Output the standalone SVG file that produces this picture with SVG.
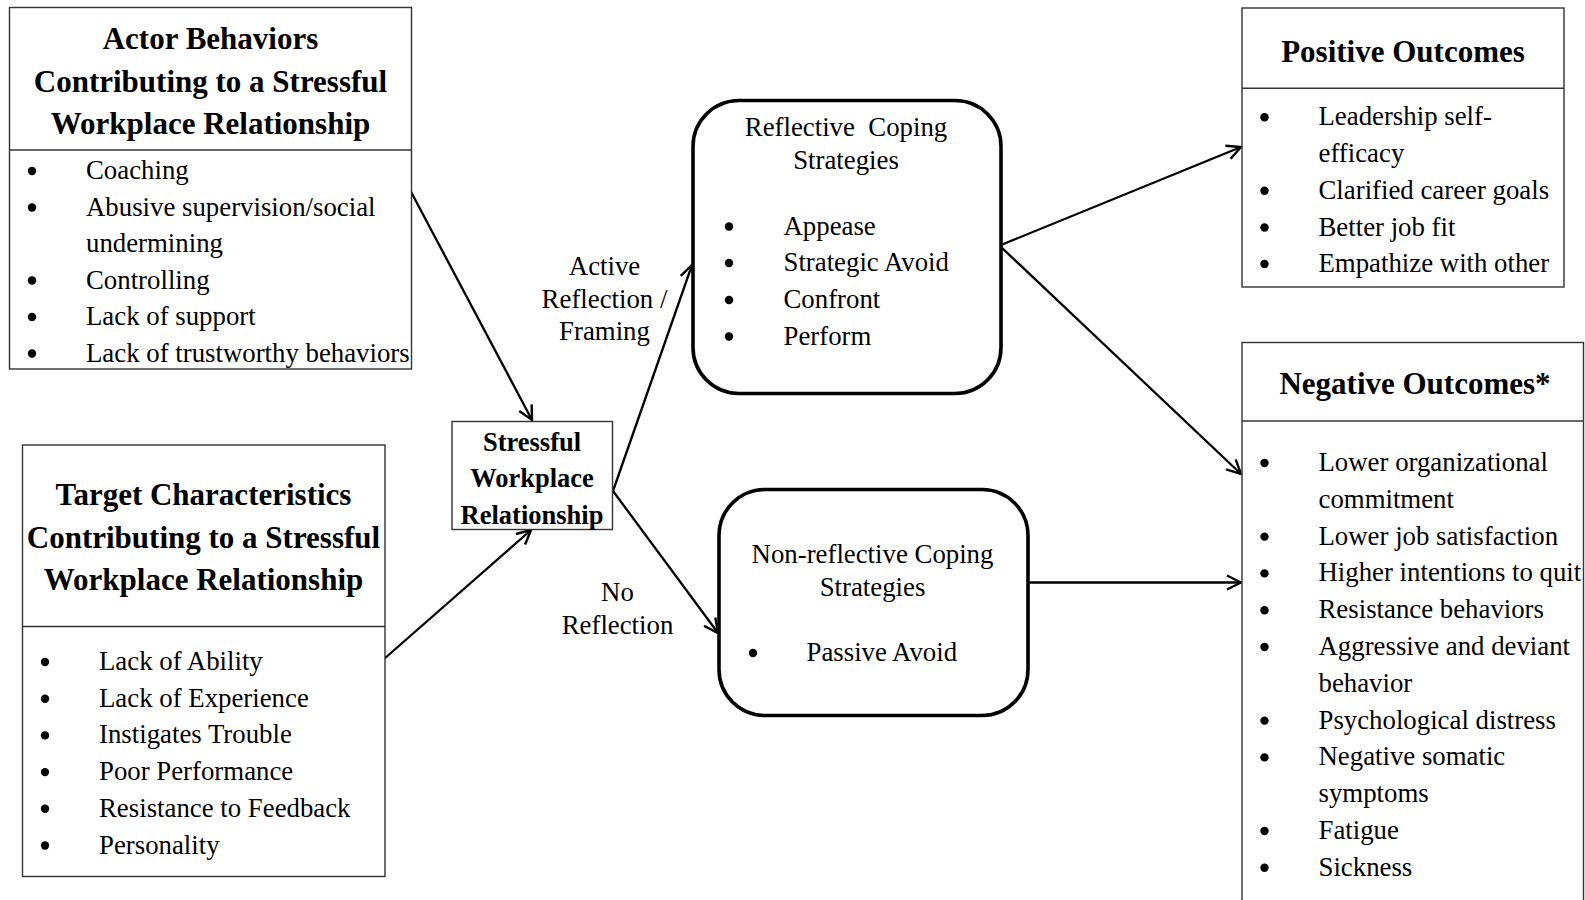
<svg xmlns="http://www.w3.org/2000/svg" width="1585" height="900" viewBox="0 0 1585 900">
<defs>
<style>
.box{fill:#fff;stroke:#333;stroke-width:1.4}
.div{stroke:#333;stroke-width:1.4}
.rbox{fill:#fff;stroke:#000;stroke-width:3.6}
.t{font-family:"Liberation Serif","Times New Roman",serif;font-size:26.8px;fill:#000}
.h{font-family:"Liberation Serif","Times New Roman",serif;font-size:31px;font-weight:bold;fill:#000;text-anchor:middle}
.hs{font-family:"Liberation Serif","Times New Roman",serif;font-size:26.5px;font-weight:bold;fill:#000;text-anchor:middle}
.c{text-anchor:middle}
.b{fill:#000}
.con{stroke:#000;stroke-width:2.3;fill:none;marker-end:url(#arr)}
</style>
<marker id="arr" markerUnits="userSpaceOnUse" viewBox="-16 -9 18 18" refX="0" refY="0" markerWidth="18" markerHeight="18" orient="auto">
<path d="M-14,-7 L0,0 L-14,7" fill="none" stroke="#000" stroke-width="2.4" stroke-linejoin="miter"/>
</marker>
</defs>
<rect width="1585" height="900" fill="#fff"/>

<g id="connectors">
<line class="con" x1="409" y1="188" x2="532" y2="420"/>
<line class="con" x1="384" y1="659" x2="531" y2="530"/>
<line class="con" x1="613" y1="491" x2="692" y2="265"/>
<line class="con" x1="613" y1="491" x2="718" y2="633"/>
<line class="con" x1="1001" y1="245" x2="1241" y2="147"/>
<line class="con" x1="1001" y1="247" x2="1241" y2="474"/>
<line class="con" x1="1028" y1="582.5" x2="1241" y2="582.5"/>
</g>

<g id="actor">
<rect class="box" x="9.5" y="7.5" width="402" height="361.5"/>
<line class="div" x1="9.5" y1="150" x2="411.5" y2="150"/>
<text class="h" x="210.5" y="49">Actor Behaviors</text>
<text class="h" x="210.5" y="91.5">Contributing to a Stressful</text>
<text class="h" x="210.5" y="134">Workplace Relationship</text>
<g class="t">
<circle class="b" cx="32" cy="171" r="4.2"/><text x="86" y="179">Coaching</text>
<circle class="b" cx="32" cy="207.5" r="4.2"/><text x="86" y="215.5">Abusive supervision/social</text>
<text x="86" y="252">undermining</text>
<circle class="b" cx="32" cy="280.5" r="4.2"/><text x="86" y="288.5">Controlling</text>
<circle class="b" cx="32" cy="317" r="4.2"/><text x="86" y="325">Lack of support</text>
<circle class="b" cx="32" cy="353.5" r="4.2"/><text x="86" y="361.5">Lack of trustworthy behaviors</text>
</g>
</g>

<g id="target">
<rect class="box" x="22.5" y="445" width="362.5" height="431.5"/>
<line class="div" x1="22.5" y1="626.5" x2="385" y2="626.5"/>
<text class="h" x="203.5" y="505">Target Characteristics</text>
<text class="h" x="203.5" y="547.5">Contributing to a Stressful</text>
<text class="h" x="203.5" y="590">Workplace Relationship</text>
<g class="t">
<circle class="b" cx="45" cy="662" r="4.2"/><text x="99" y="670">Lack of Ability</text>
<circle class="b" cx="45" cy="698.7" r="4.2"/><text x="99" y="706.7">Lack of Experience</text>
<circle class="b" cx="45" cy="735.4" r="4.2"/><text x="99" y="743.4">Instigates Trouble</text>
<circle class="b" cx="45" cy="772.1" r="4.2"/><text x="99" y="780.1">Poor Performance</text>
<circle class="b" cx="45" cy="808.8" r="4.2"/><text x="99" y="816.8">Resistance to Feedback</text>
<circle class="b" cx="45" cy="845.5" r="4.2"/><text x="99" y="853.5">Personality</text>
</g>
</g>

<g id="stressful">
<rect class="box" x="452" y="421.5" width="160.5" height="108"/>
<text class="hs" x="532" y="450.5">Stressful</text>
<text class="hs" x="532" y="487">Workplace</text>
<text class="hs" x="532" y="523.5">Relationship</text>
</g>

<g id="label-active" class="t">
<text class="c" x="604.5" y="275">Active</text>
<text class="c" x="604.5" y="307.5">Reflection /</text>
<text class="c" x="604.5" y="340">Framing</text>
</g>
<g id="label-noreflection" class="t">
<text class="c" x="617.5" y="601">No</text>
<text class="c" x="617.5" y="633.5">Reflection</text>
</g>

<g id="reflective">
<rect class="rbox" x="693" y="100.5" width="308" height="293" rx="46" ry="46"/>
<g class="t">
<text class="c" x="846" y="136" xml:space="preserve">Reflective  Coping</text>
<text class="c" x="846" y="168.5">Strategies</text>
<circle class="b" cx="729" cy="226.5" r="4.2"/><text x="783.5" y="234.5">Appease</text>
<circle class="b" cx="729" cy="263" r="4.2"/><text x="783.5" y="271">Strategic Avoid</text>
<circle class="b" cx="729" cy="300" r="4.2"/><text x="783.5" y="308">Confront</text>
<circle class="b" cx="729" cy="336.5" r="4.2"/><text x="783.5" y="344.5">Perform</text>
</g>
</g>

<g id="nonreflective">
<rect class="rbox" x="719" y="489.5" width="309" height="226" rx="46" ry="46"/>
<g class="t">
<text class="c" x="872.5" y="563">Non-reflective Coping</text>
<text class="c" x="872.5" y="595.5">Strategies</text>
<circle class="b" cx="753" cy="653" r="4.2"/><text x="806.5" y="661">Passive Avoid</text>
</g>
</g>

<g id="positive">
<rect class="box" x="1242" y="8" width="322" height="279"/>
<line class="div" x1="1242" y1="88.3" x2="1564" y2="88.3"/>
<text class="h" x="1403" y="61.5">Positive Outcomes</text>
<g class="t">
<circle class="b" cx="1264.5" cy="117.3" r="4.2"/><text x="1318.5" y="125.3">Leadership self-</text>
<text x="1318.5" y="162">efficacy</text>
<circle class="b" cx="1264.5" cy="190.8" r="4.2"/><text x="1318.5" y="198.8">Clarified career goals</text>
<circle class="b" cx="1264.5" cy="227.5" r="4.2"/><text x="1318.5" y="235.5">Better job fit</text>
<circle class="b" cx="1264.5" cy="264" r="4.2"/><text x="1318.5" y="272">Empathize with other</text>
</g>
</g>

<g id="negative">
<rect class="box" x="1242" y="342.5" width="341.5" height="580"/>
<line class="div" x1="1242" y1="421" x2="1583.5" y2="421"/>
<text class="h" x="1415" y="394">Negative Outcomes*</text>
<g class="t">
<circle class="b" cx="1264.5" cy="463" r="4.2"/><text x="1318.5" y="471">Lower organizational</text>
<text x="1318.5" y="507.8">commitment</text>
<circle class="b" cx="1264.5" cy="536.6" r="4.2"/><text x="1318.5" y="544.6">Lower job satisfaction</text>
<circle class="b" cx="1264.5" cy="573.4" r="4.2"/><text x="1318.5" y="581.4">Higher intentions to quit</text>
<circle class="b" cx="1264.5" cy="610.2" r="4.2"/><text x="1318.5" y="618.2">Resistance behaviors</text>
<circle class="b" cx="1264.5" cy="647" r="4.2"/><text x="1318.5" y="655">Aggressive and deviant</text>
<text x="1318.5" y="691.8">behavior</text>
<circle class="b" cx="1264.5" cy="720.6" r="4.2"/><text x="1318.5" y="728.6">Psychological distress</text>
<circle class="b" cx="1264.5" cy="757.4" r="4.2"/><text x="1318.5" y="765.4">Negative somatic</text>
<text x="1318.5" y="802.2">symptoms</text>
<circle class="b" cx="1264.5" cy="831" r="4.2"/><text x="1318.5" y="839">Fatigue</text>
<circle class="b" cx="1264.5" cy="867.8" r="4.2"/><text x="1318.5" y="875.8">Sickness</text>
</g>
</g>
</svg>
